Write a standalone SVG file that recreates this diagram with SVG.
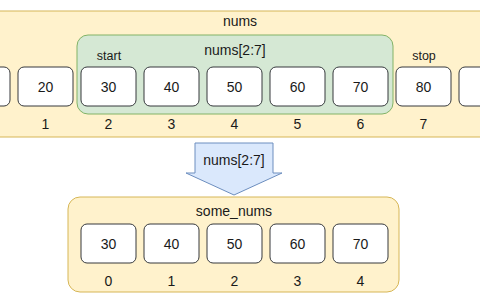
<svg xmlns="http://www.w3.org/2000/svg" width="480" height="300" viewBox="0 0 480 300">
<style>
text{font-family:"Liberation Sans",Arial,sans-serif;fill:#1a1a1a;text-anchor:middle}
.cell{fill:#ffffff;stroke:#36393d;stroke-width:1}
.v{font-size:14px}
.i{font-size:14px}
.lbl{font-size:14px}
.sm{font-size:12.5px}
.yel{fill:#fff2cc;stroke:#d6b656;stroke-width:1}
.grn{fill:#d5e8d4;stroke:#82b366;stroke-width:1}
.blu{fill:#dae8fc;stroke:#6c8ebf;stroke-width:1}
</style>
<rect width="480" height="300" fill="#ffffff"/>
<g id="nums">
<rect class="yel" x="-10" y="11" width="500" height="126"/>
<text class="lbl" x="240" y="26">nums</text>
</g>
<g id="slice">
<rect class="grn" x="77" y="35" width="316" height="79" rx="11"/>
<text class="lbl" x="235" y="55">nums[2:7]</text>
</g>
<g id="labels">
<text class="sm" x="109" y="60">start</text>
<text class="sm" x="424" y="60">stop</text>
</g>
<g id="top-cells">
<g id="c0"><rect class="cell" x="-45" y="67" width="55" height="39" rx="6"/></g>
<g id="c1"><rect class="cell" x="18" y="67" width="55" height="39" rx="6"/><text class="v" x="45.5" y="92">20</text><text class="i" x="45.5" y="129">1</text></g>
<g id="c2"><rect class="cell" x="81" y="67" width="55" height="39" rx="6"/><text class="v" x="108.5" y="92">30</text><text class="i" x="108.5" y="129">2</text></g>
<g id="c3"><rect class="cell" x="144" y="67" width="55" height="39" rx="6"/><text class="v" x="171.5" y="92">40</text><text class="i" x="171.5" y="129">3</text></g>
<g id="c4"><rect class="cell" x="207" y="67" width="55" height="39" rx="6"/><text class="v" x="234.5" y="92">50</text><text class="i" x="234.5" y="129">4</text></g>
<g id="c5"><rect class="cell" x="270" y="67" width="55" height="39" rx="6"/><text class="v" x="297.5" y="92">60</text><text class="i" x="297.5" y="129">5</text></g>
<g id="c6"><rect class="cell" x="333" y="67" width="55" height="39" rx="6"/><text class="v" x="360.5" y="92">70</text><text class="i" x="360.5" y="129">6</text></g>
<g id="c7"><rect class="cell" x="396" y="67" width="55" height="39" rx="6"/><text class="v" x="423.5" y="92">80</text><text class="i" x="423.5" y="129">7</text></g>
<g id="c8"><rect class="cell" x="459" y="67" width="55" height="39" rx="6"/></g>
</g>
<g id="connectors">
<g id="arrow">
<path class="blu" d="M195,143 H273 V173 H282 L234,195 L186,173 H195 Z"/>
<text class="lbl" x="234" y="165">nums[2:7]</text>
</g>
</g>
<g id="some_nums">
<rect class="yel" x="68" y="197" width="331" height="95" rx="12"/>
<text class="lbl" x="234" y="216">some_nums</text>
</g>
<g id="bottom-cells">
<g id="b0"><rect class="cell" x="81" y="224" width="55" height="39" rx="6"/><text class="v" x="108.5" y="249">30</text><text class="i" x="108.5" y="286">0</text></g>
<g id="b1"><rect class="cell" x="144" y="224" width="55" height="39" rx="6"/><text class="v" x="171.5" y="249">40</text><text class="i" x="171.5" y="286">1</text></g>
<g id="b2"><rect class="cell" x="207" y="224" width="55" height="39" rx="6"/><text class="v" x="234.5" y="249">50</text><text class="i" x="234.5" y="286">2</text></g>
<g id="b3"><rect class="cell" x="270" y="224" width="55" height="39" rx="6"/><text class="v" x="297.5" y="249">60</text><text class="i" x="297.5" y="286">3</text></g>
<g id="b4"><rect class="cell" x="333" y="224" width="55" height="39" rx="6"/><text class="v" x="360.5" y="249">70</text><text class="i" x="360.5" y="286">4</text></g>
</g>
</svg>
